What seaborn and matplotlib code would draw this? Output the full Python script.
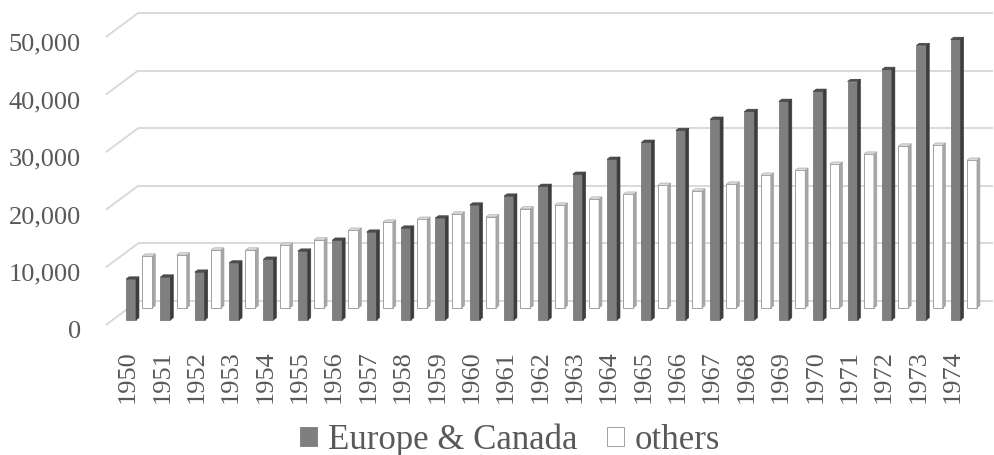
import matplotlib
matplotlib.use("Agg")
import matplotlib.pyplot as plt
import pandas as pd
import seaborn as sns
from matplotlib.patches import Polygon
from matplotlib.transforms import ScaledTranslation

# ---- data -------------------------------------------------------------
years = [str(y) for y in range(1950, 1975)]
europe_canada = [7100, 7450, 8300, 9900, 10550, 11950, 13850, 15250, 15950,
                 17700, 19950, 21500, 23200, 25300, 27900, 30850, 32900,
                 34850, 36200, 37950, 39700, 41400, 43500, 47650, 48700]
others = [9000, 9200, 10050, 10050, 10900, 11800, 13500, 14900, 15400,
          16300, 15800, 17200, 17850, 18900, 19750, 21300, 20300, 21500,
          23050, 23900, 24950, 26700, 28100, 28250, 25650]
y_ticks = [0, 10000, 20000, 30000, 40000, 50000]
y_tick_labels = ["0", "10,000", "20,000", "30,000", "40,000", "50,000"]
series_names = ["Europe & Canada", "others"]

df_eu = pd.DataFrame({"year": years, "value": europe_canada})
df_ot = pd.DataFrame({"year": years, "value": others})

# ---- style ------------------------------------------------------------
sns.set_theme(style="white")
plt.rcParams["font.family"] = ["Liberation Serif", "DejaVu Serif"]
TEXT = "#595959"
GRID = "#d9d9d9"

DPI = 100
W, H = 995, 455
fig = plt.figure(figsize=(W / DPI, H / DPI), dpi=DPI)

# plot area (pixels) and pixel scale of the front row
LEFT, RIGHT, TOP, BOTTOM = 90, 995, 0, 340
STEP = 34.36      # px between categories
X0 = 131          # px of first category centre
PPU = 0.00576     # px per unit of value
BASE = 320        # px (from top) of the front-row floor
BAR_W = 0.29      # bar width in category units

ax = fig.add_axes([LEFT / W, 1 - BOTTOM / H, (RIGHT - LEFT) / W, (BOTTOM - TOP) / H])


def d(px_x, px_y):
    """pixel offset -> data offset"""
    return px_x / STEP, px_y / PPU


# oblique depth vectors (px, right/up) relative to the front row
ROW2 = (16.3, 12.0)     # second row
BACK = (25.6, 19.0)     # back wall
FRONT = (-6.7, -5.0)    # front edge of the floor
DEPTH = (3.0, 2.3)      # thickness of one bar

XL = (112.5 - X0) / STEP  # left wall position in category units

# ---- walls / gridlines ---------------------------------------------------
bx, by = d(*BACK)
fx, fy = d(*FRONT)
x_right = (993 - X0) / STEP - bx
for v in y_ticks:
    ax.plot([XL + fx, XL + bx], [v + fy, v + by], color=GRID, lw=1.4,
            zorder=0, solid_capstyle="butt")
    ax.plot([XL + bx, x_right + bx], [v + by, v + by], color=GRID, lw=1.4,
            zorder=0, solid_capstyle="butt")


def draw_faces(values, shift, side_c, top_c, edge_c, z):
    sx, sy = d(*shift)
    ddx, ddy = d(*DEPTH)
    for i, v in enumerate(values):
        xl, xr = i - BAR_W / 2 + sx, i + BAR_W / 2 + sx
        y0, y1 = sy, v + sy
        side = [(xr, y0), (xr, y1), (xr + ddx, y1 + ddy), (xr + ddx, y0 + ddy)]
        top = [(xl, y1), (xr, y1), (xr + ddx, y1 + ddy), (xl + ddx, y1 + ddy)]
        ax.add_patch(Polygon(side, closed=True, facecolor=side_c,
                             edgecolor=edge_c, lw=0.4, zorder=z))
        ax.add_patch(Polygon(top, closed=True, facecolor=top_c,
                             edgecolor=edge_c, lw=0.4, zorder=z))


# ---- back row: others ------------------------------------------------------
sns.barplot(data=df_ot, x="year", y="value", color="white", saturation=1,
            width=BAR_W, errorbar=None, edgecolor="#a0a0a0", linewidth=0.7,
            label=series_names[1], ax=ax, zorder=2)
ot_container = ax.containers[-1]
row2 = ax.transData + ScaledTranslation(ROW2[0] / DPI, ROW2[1] / DPI, fig.dpi_scale_trans)
for p in ot_container.patches:
    p.set_transform(row2)
    p.set_zorder(2)
draw_faces(others, ROW2, "#a6a6a6", "#dcdcdc", "#a0a0a0", 2)

# ---- front row: Europe & Canada --------------------------------------------
sns.barplot(data=df_eu, x="year", y="value", color="#7f7f7f", saturation=1,
            width=BAR_W, errorbar=None, edgecolor="#6e6e6e", linewidth=0.5,
            label=series_names[0], ax=ax, zorder=3)
eu_container = ax.containers[-1]
for p in eu_container.patches:
    p.set_zorder(3)
draw_faces(europe_canada, (0, 0), "#3d3d3d", "#4f4f4f", "#3a3a3a", 3)

# ---- axes -------------------------------------------------------------------
ax.set_xlim((LEFT - X0) / STEP, (RIGHT - X0) / STEP)
ax.set_ylim((BASE - BOTTOM) / PPU, (BASE - TOP) / PPU)
ax.set_xlabel("")
ax.set_ylabel("")
for s in ax.spines.values():
    s.set_visible(False)
if ax.get_legend() is not None:
    ax.get_legend().remove()

ax.set_yticks(y_ticks, y_tick_labels)
ax.tick_params(axis="y", length=0, pad=6.5, labelsize=19, labelcolor=TEXT)
ax.set_xticks(range(len(years)), years)
ax.tick_params(axis="x", length=0, pad=7.2, labelsize=19, labelcolor=TEXT,
               labelrotation=90)

y_shift = ScaledTranslation(0, -10 / DPI, fig.dpi_scale_trans)
for lab in ax.get_yticklabels():
    lab.set_transform(lab.get_transform() + y_shift)
x_shift = ScaledTranslation(-3 / DPI, 0, fig.dpi_scale_trans)
for lab in ax.get_xticklabels():
    lab.set_transform(lab.get_transform() + x_shift)

# ---- legend -------------------------------------------------------------------
leg = fig.legend(handles=[eu_container, ot_container], labels=series_names,
                 loc="center", bbox_to_anchor=(510 / W, 1 - 440 / H), ncol=2,
                 frameon=False, fontsize=25, handlelength=0.5, handleheight=0.5,
                 handletextpad=0.3, columnspacing=0.85, borderpad=0)
for t in leg.get_texts():
    t.set_color(TEXT)

fig.savefig("out.png", dpi=DPI, facecolor="white")
